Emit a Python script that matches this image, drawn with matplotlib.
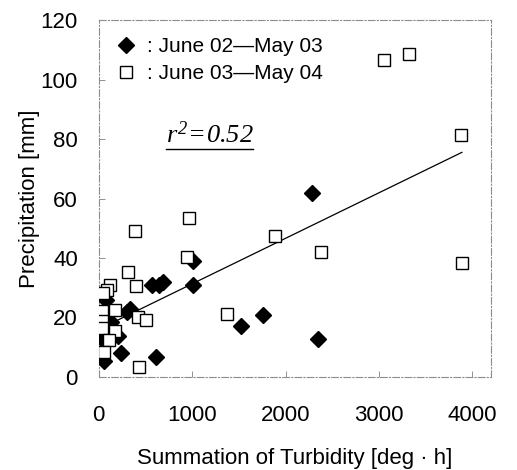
import numpy as np
import matplotlib.pyplot as plt
from matplotlib.lines import Line2D

plt.rcParams['font.family'] = ['Liberation Sans', 'DejaVu Sans']
plt.rcParams['mathtext.fontset'] = 'custom'
plt.rcParams['mathtext.it'] = 'Liberation Serif:italic'
plt.rcParams['mathtext.rm'] = 'Liberation Serif:italic'

# June 02 - May 03 (filled diamonds)
x02 = [2280, 1011, 1004, 575, 647, 689, 332, 300, 1519, 1761, 2344, 611, 243,
       57, 0, 46, 207, 82, 136]
y02 = [62, 39, 30.9, 31, 31, 32, 23, 22, 17.1, 20.8, 12.7, 6.8, 8.2,
       5.5, 13.8, 12.4, 13.8, 25.9, 18.6]

# June 03 - May 04 (open squares)
x03 = [3054, 3326, 3880, 3887, 2379, 1886, 965, 945, 386, 314, 400, 1375,
       421, 502, 436, 125, 89, 46, 40, 40, 40, 178, 173, 110, 57]
y03 = [106.5, 108.8, 81.3, 38.4, 42, 47.5, 53.5, 40.5, 49.2, 35.3, 30.6, 21.3,
       20.1, 19.2, 3.5, 30.8, 29.3, 28.3, 22.3, 18.8, 16.6, 22.4, 15.4, 12.3, 8.5]

# regression line
fit_b = 16.0
fit_a = 0.01532
r2_label = r'$r^{2}\!=\!0.52$'

fig = plt.figure(figsize=(5.17, 4.70), dpi=100)
ax = fig.add_axes([0.191, 0.198, 0.759, 0.759])

ax.plot(x02, y02, 'D', ms=8.3, mfc='black', mec='black', zorder=3,
        label=': June 02\u2014May 03')
ax.plot(x03, y03, 's', ms=9, mfc='white', mec='black', mew=1.0, zorder=4,
        label=': June 03\u2014May 04')

xx = np.array([0, max(x03)])
ax.plot(xx, fit_b + fit_a * xx, color='black', lw=0.9, zorder=2)

ax.set_xlim(0, 4200)
ax.set_ylim(0, 120)
ax.set_xticks([0, 1000, 2000, 3000, 4000])
ax.set_yticks([0, 20, 40, 60, 80, 100, 120])
ax.tick_params(axis='x', direction='in', length=4, width=0.6, color='0.5',
               pad=20, labelsize=16)
ax.tick_params(axis='y', direction='in', length=4, width=0.6, color='0.5',
               pad=15, labelsize=16)
for s in ax.spines.values():
    s.set_color('0.55')
    s.set_linewidth(0.8)
    s.set_linestyle((0, (6, 2, 1, 2)))

ax.set_xlabel('Summation of Turbidity [deg · h]', fontsize=16)
ax.set_ylabel('Precipitation [mm]', fontsize=16)
ax.xaxis.set_label_coords(0.5, -0.2)
ax.yaxis.set_label_coords(-0.15, 0.5)

ax.legend(loc='upper left', bbox_to_anchor=(0.0, 1.0), frameon=False,
          fontsize=15, handlelength=1.0, handletextpad=0.5,
          labelspacing=0.4, borderaxespad=0.5, borderpad=0.3)

t = ax.text(715, 78.6, r2_label, fontsize=19, ha='left', va='baseline')
fig.canvas.draw()
bb = t.get_window_extent().transformed(fig.transFigure.inverted())
fig.add_artist(Line2D([bb.x0, bb.x1], [bb.y0 - 0.002, bb.y0 - 0.002],
                      transform=fig.transFigure, color='black', lw=1.0))

fig.savefig('out.png', dpi=100)
